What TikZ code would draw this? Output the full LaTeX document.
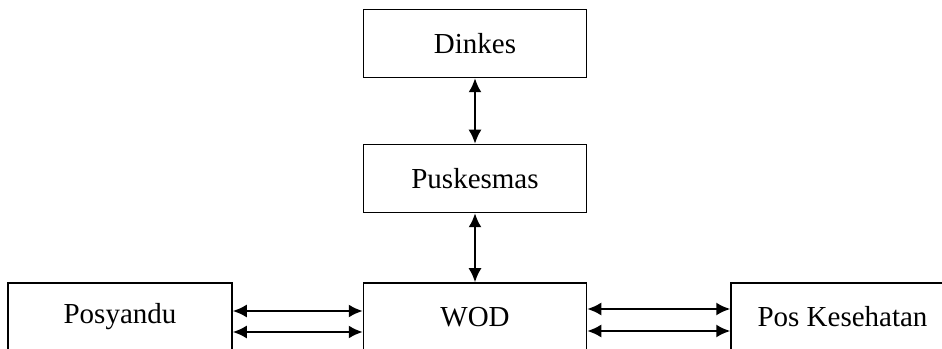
\documentclass[tikz,border=0pt]{standalone}
\usepackage{fontspec}
\setmainfont{Liberation Serif}
\usetikzlibrary{positioning,arrows.meta}
\tikzset{
box/.style={draw, line width=1.5pt, minimum width=223pt, minimum height=68pt, inner sep=0pt, font=\fontsize{29}{35}\selectfont},
link/.style={{Latex[length=14pt,width=13pt]}-{Latex[length=14pt,width=13pt]}, line width=2pt}
}
\begin{document}
\begin{tikzpicture}[x=1pt,y=1pt]
\useasboundingbox (0,0) rectangle (942,348);
\clip (0,0) rectangle (942,348);
% boxes
\node[box] (dinkes) at (475,304.5) {Dinkes};
\node[box] (puskesmas) at (475,169.5) {Puskesmas};
\node[box] (wod) at (475,31) {WOD};
\node[box, minimum width=224pt] (posyandu) at (120,31) {Posyandu};
\node[box] (poskes) at (842.5,31) {Pos Kesehatan};
% links
\draw[link] (dinkes.south) -- (puskesmas.north);
\draw[link] (puskesmas.south) -- (wod.north);
\draw[link] ([yshift=6pt]posyandu.east) -- ([yshift=6pt]wod.west);
\draw[link] ([yshift=-15pt]posyandu.east) -- ([yshift=-15pt]wod.west);
\draw[link] ([yshift=8pt]wod.east) -- ([yshift=8pt]poskes.west);
\draw[link] ([yshift=-14pt]wod.east) -- ([yshift=-14pt]poskes.west);
\end{tikzpicture}
\end{document}
